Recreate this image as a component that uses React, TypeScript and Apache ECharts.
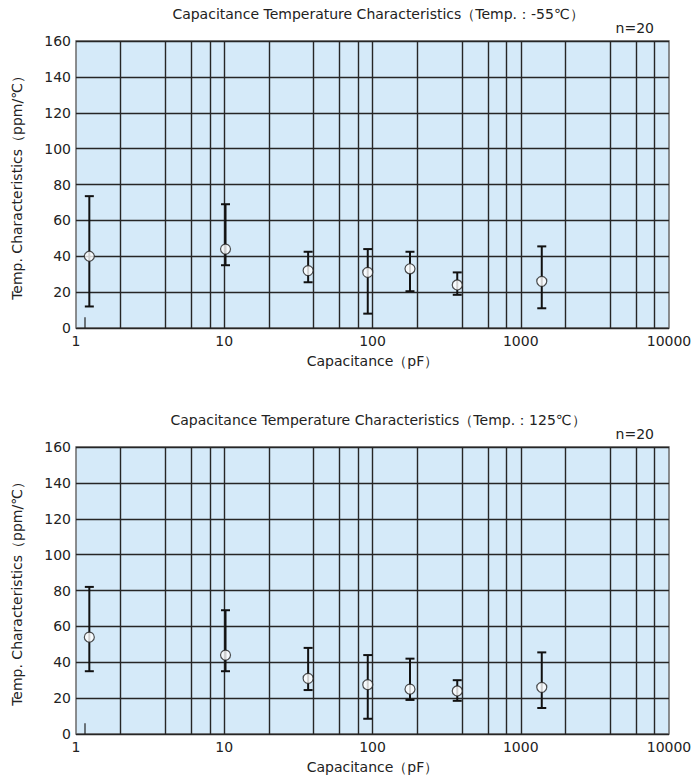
import React, { useEffect, useRef } from "react";
import * as echarts from "echarts";

const capacitance = [1.23, 10.2, 36.8, 92.9, 179, 373, 1386];

const meanLow = [40, 44, 32, 31, 33, 24, 26];
const minLow = [12, 35, 25.5, 8, 20.5, 18.5, 11];
const maxLow = [73.5, 69, 42.5, 44, 42.5, 31, 45.5];

const meanHigh = [54, 44, 31, 27.5, 25, 24, 26];
const minHigh = [35, 35, 24.5, 8.5, 19, 18.5, 14.5];
const maxHigh = [82, 69, 48, 44, 42, 30, 45.5];

const gridX = [2, 4, 6, 8, 10, 20, 40, 60, 80, 100, 200, 400, 600, 800, 1000, 2000, 4000, 6000, 8000];
const stub = [[1.15, 0], [1.15, 6]];

const titles = [
  "Capacitance Temperature Characteristics（Temp.：-55℃）",
  "Capacitance Temperature Characteristics（Temp.：125℃）",
];

const FONT = "DejaVu Sans, sans-serif";
const TXT = "#222";
const FS = 14;

export default function App() {
  const ref = useRef<HTMLDivElement>(null);
  useEffect(() => {
    if (!ref.current) return;
    const chart = echarts.init(ref.current, undefined, { renderer: "svg" });
    const tops = [41, 447];
    const H = 287;
    const grids = tops.map((t) => ({
      left: 76,
      right: 29,
      top: t,
      height: H,
      show: true,
      backgroundColor: "#d5eaf9",
      borderColor: "#6a6a6a",
      borderWidth: 1.5,
    }));
    const xAxes = tops.map((_, i) => ({
      type: "log",
      gridIndex: i,
      logBase: 10,
      min: 1,
      max: 10000,
      name: "Capacitance（pF）",
      nameLocation: "middle",
      nameGap: 26,
      nameTextStyle: { fontFamily: FONT, fontSize: FS, color: TXT },
      axisLine: { show: false },
      axisTick: { show: false },
      splitLine: { show: false },
      axisLabel: {
        fontFamily: FONT,
        fontSize: FS,
        color: TXT,
        margin: 6,
        formatter: (v: number) => String(Math.round(v)),
      },
    }));
    const yAxes = tops.map((_, i) => ({
      type: "value",
      gridIndex: i,
      min: 0,
      max: 160,
      interval: 20,
      name: "Temp. Characteristics（ppm/℃）",
      nameLocation: "middle",
      nameGap: 52,
      nameTextStyle: { fontFamily: FONT, fontSize: FS, color: TXT },
      axisLine: { show: false },
      axisTick: { show: false },
      splitLine: { show: true, lineStyle: { color: "#262626", width: 1.4 } },
      axisLabel: { fontFamily: FONT, fontSize: FS, color: TXT, margin: 5 },
    }));
    const series: any[] = [];
    const sets = [
      [meanLow, minLow, maxLow],
      [meanHigh, minHigh, maxHigh],
    ];
    sets.forEach(([mean, lo, hi], i) => {
      series.push({
        type: "line",
        xAxisIndex: i,
        yAxisIndex: i,
        data: stub,
        symbol: "none",
        lineStyle: { color: "#222", width: 1.2 },
        silent: true,
        z: 3,
        markLine: {
          silent: true,
          symbol: "none",
          label: { show: false },
          lineStyle: { color: "#262626", width: 1.4, type: "solid" },
          data: gridX.map((v) => ({ xAxis: v })),
          z: 1,
        },
      });
      series.push({
        type: "custom",
        xAxisIndex: i,
        yAxisIndex: i,
        data: capacitance.map((c, k) => [c, lo[k], hi[k]]),
        z: 4,
        renderItem: (params: any, api: any) => {
          const x = api.value(0);
          const p1 = api.coord([x, api.value(2)]);
          const p2 = api.coord([x, api.value(1)]);
          const w = 4.5;
          const st = { stroke: "#111", lineWidth: 2 };
          return {
            type: "group",
            children: [
              { type: "line", shape: { x1: p1[0], y1: p1[1], x2: p2[0], y2: p2[1] }, style: st },
              { type: "line", shape: { x1: p1[0] - w, y1: p1[1], x2: p1[0] + w, y2: p1[1] }, style: st },
              { type: "line", shape: { x1: p2[0] - w, y1: p2[1], x2: p2[0] + w, y2: p2[1] }, style: st },
            ],
          };
        },
      });
      series.push({
        type: "scatter",
        xAxisIndex: i,
        yAxisIndex: i,
        data: capacitance.map((c, k) => [c, mean[k]]),
        symbol: "circle",
        symbolSize: 10,
        z: 5,
        itemStyle: { color: "#fff", borderColor: "#222", borderWidth: 1.2 },
      });
    });
    chart.setOption({
      animation: false,
      backgroundColor: "#fff",
      title: titles.map((t, i) => ({
        text: t,
        left: 373,
        top: i === 0 ? 2 : 408,
        textAlign: "center",
        textStyle: { fontFamily: FONT, fontSize: FS, fontWeight: "normal", color: TXT },
      })),
      graphic: tops.map((t) => ({
        type: "text",
        right: 44,
        top: t - 20,
        style: { text: "n=20", font: `${FS}px ${FONT}`, fill: TXT },
      })),
      grid: grids,
      xAxis: xAxes,
      yAxis: yAxes,
      series,
    });
    return () => chart.dispose();
  }, []);
  return (
    <div
      ref={ref}
      style={{ position: "fixed", left: 0, top: 0, width: 698, height: 782 }}
    />
  );
}
